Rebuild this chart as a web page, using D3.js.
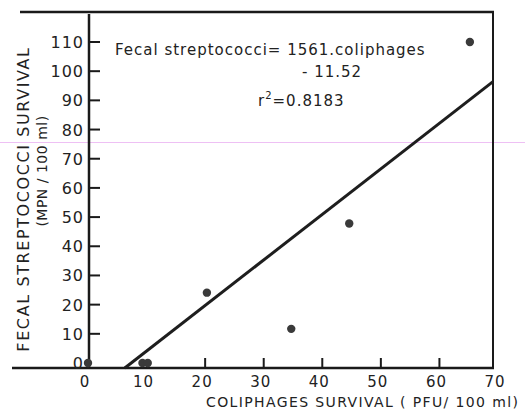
<!DOCTYPE html>
<html>
<head>
<meta charset="utf-8">
<script src="https://cdn.jsdelivr.net/npm/d3@7"></script>
<style>
  body { margin: 0; background: #fff; }
  svg { display: block; }
  text { font-family: "DejaVu Sans", sans-serif; fill: #222; }
</style>
</head>
<body>
<script>
// data
var coliphages = [0, 9.3, 10.2, 20.3, 34.7, 44.6, 65.2];
var fecalStrep = [0, 0, 0, 24.1, 11.7, 47.8, 110];
var yTicks = [0, 10, 20, 30, 40, 50, 60, 70, 80, 90, 100, 110];
var xTicks = [0, 10, 20, 30, 40, 50, 60, 70];
var xTickMarks = [20, 30, 40, 50, 60];
var slope = 1.561, intercept = -11.52;

var svgWidth = 525;
var svgHeight = 414;

var svg = d3.select('body').append('svg')
    .attr('width', svgWidth)
    .attr('height', svgHeight);

var x = d3.scaleLinear().domain([0, 70]).range([88, 498]);
var y = d3.scaleLinear().domain([0, 110]).range([363, 42]);

var axisY = 368;   // baseline drawn a bit below zero, like the original
var rightX = 493;  // right border of the frame
var topY = 12;

// scan artifact line
svg.append('line')
    .attr('x1', 0).attr('x2', svgWidth)
    .attr('y1', 142.5).attr('y2', 142.5)
    .attr('stroke', '#eec0f4').attr('stroke-width', 1);

// frame
var frame = svg.append('g').attr('stroke', '#1a1a1a').attr('fill', 'none');
frame.append('line').attr('x1', 20).attr('x2', rightX + 1).attr('y1', topY).attr('y2', topY).attr('stroke-width', 2.5);
frame.append('line').attr('x1', rightX).attr('x2', rightX).attr('y1', topY).attr('y2', axisY).attr('stroke-width', 2);
frame.append('line').attr('x1', 12).attr('x2', rightX + 1).attr('y1', axisY).attr('y2', axisY).attr('stroke-width', 2.5);
frame.append('line').attr('x1', x(0) + 1).attr('x2', x(0) + 1).attr('y1', topY + 2).attr('y2', axisY).attr('stroke-width', 2.5);

// y ticks, pointing into the plot
svg.append('g').selectAll('line')
    .data(yTicks.filter(d => d > 0))
    .enter().append('line')
    .attr('x1', x(0) + 1).attr('x2', x(0) + 12)
    .attr('y1', d => y(d)).attr('y2', d => y(d))
    .attr('stroke', '#1a1a1a').attr('stroke-width', 2);

svg.append('g').selectAll('text')
    .data(yTicks)
    .enter().append('text')
    .attr('x', 84)
    .attr('y', d => y(d) + 6)
    .attr('text-anchor', 'end')
    .attr('font-size', 16)
    .style('letter-spacing', '1px')
    .text(d => d);

// x ticks, pointing up from the baseline
svg.append('g').selectAll('line')
    .data(xTickMarks)
    .enter().append('line')
    .attr('x1', d => x(d)).attr('x2', d => x(d))
    .attr('y1', axisY).attr('y2', axisY - 10)
    .attr('stroke', '#1a1a1a').attr('stroke-width', 2);

svg.append('g').selectAll('text')
    .data(xTicks)
    .enter().append('text')
    .attr('x', d => x(d) - 3)
    .attr('y', 387)
    .attr('text-anchor', 'middle')
    .attr('font-size', 15)
    .style('letter-spacing', '1px')
    .text(d => d);

// regression line from the baseline to the right border
var yBase = y.invert(axisY);
var x0 = (yBase - intercept) / slope;
var x1 = x.invert(rightX);
svg.append('line')
    .attr('x1', x(x0)).attr('y1', y(slope * x0 + intercept))
    .attr('x2', x(x1)).attr('y2', y(slope * x1 + intercept))
    .attr('stroke', '#1e1e1e').attr('stroke-width', 3);

// points
svg.append('g').selectAll('circle')
    .data(coliphages.map((c, i) => [c, fecalStrep[i]]))
    .enter().append('circle')
    .attr('cx', d => x(d[0]))
    .attr('cy', d => y(d[1]))
    .attr('r', 4.2)
    .attr('fill', '#3a3a3a');

// annotation
var note = svg.append('g').attr('font-size', 15).style('letter-spacing', '1px');
note.append('text').attr('x', 115).attr('y', 55).text('Fecal streptococci= 1561.coliphages');
note.append('text').attr('x', 302).attr('y', 77).text('- 11.52');
note.append('text').attr('x', 258).attr('y', 106)
    .html('r<tspan dy="-7" font-size="10">2</tspan><tspan dy="7">=0.8183</tspan>');

// axis titles
svg.append('text')
    .attr('transform', 'translate(29,199) rotate(-90)')
    .attr('text-anchor', 'middle')
    .attr('font-size', 16)
    .style('letter-spacing', '1.6px')
    .text('FECAL STREPTOCOCCI SURVIVAL');
svg.append('text')
    .attr('transform', 'translate(47,171) rotate(-90)')
    .attr('text-anchor', 'middle')
    .attr('font-size', 14)
    .style('letter-spacing', '0.5px')
    .text('(MPN / 100 ml)');

svg.append('text')
    .attr('x', 206).attr('y', 407)
    .attr('font-size', 14)
    .attr('textLength', 312)
    .attr('lengthAdjust', 'spacing')
    .text('COLIPHAGES  SURVIVAL ( PFU/ 100 ml)');
</script>
</body>
</html>
